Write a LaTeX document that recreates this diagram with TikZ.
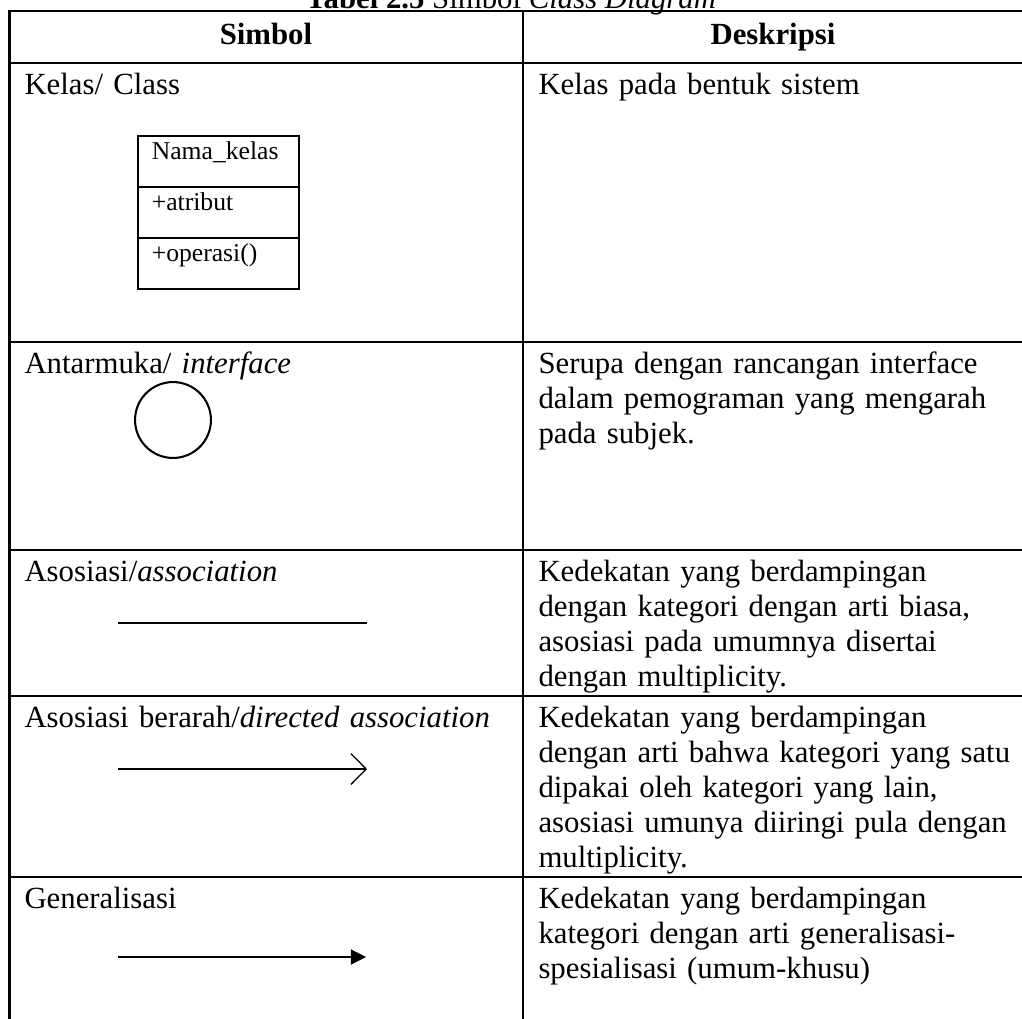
\documentclass[tikz,border=0pt]{standalone}
\usepackage{fontspec}
\setmainfont{Liberation Serif}
\usetikzlibrary{positioning,arrows.meta}

\begin{document}
\begin{tikzpicture}[x=0.39pt, y=-0.39pt, font=\fontsize{12}{13.7}\selectfont]
    \tikzstyle{grid} = [line width=0.8pt];
    \tikzstyle{cell} = [anchor=base west, inner sep=0pt, text width=220pt, align=left];
    \tikzstyle{head} = [anchor=base, inner sep=0pt, font=\fontsize{12}{13.7}\selectfont\bfseries];
    \tikzstyle{compart} = [draw, line width=0.8pt, outer sep=0pt, text width=51.8pt, inner xsep=5.5pt,
      inner ysep=0pt, text height=9.4pt, text depth=10.5pt, align=left, font=\fontsize{10}{12}\selectfont];
    \tikzstyle{link} = [line width=0.5pt];
    \useasboundingbox (0,0) rectangle (1022,1018);

    % table rules
    \draw [grid] (9.5,1030) -- (9.5,11) -- (1023,11) -- (1023,1030);
    \draw [grid] (523,11) -- (523,1030);
    \foreach \y in {63,342,550,696,877}
      \draw [grid] (9.5,\y) -- (1023,\y);

    \node [anchor=base] (judul) at (511,8) {\textbf{Tabel 2.5} Simbol \textit{Class Diagram}};
    \node [head] (hsimbol) at (266,44) {Simbol};
    \node [head] (hdesk) at (773,44) {Deskripsi};

    % kelas
    \node [cell] (sym1) at (24,94) {Kelas/ Class};
    \node [compart, anchor=north west] (nama) at (137.7,135.7) {Nama\_kelas};
    \node [compart, below=0pt of nama] (atribut) {+atribut};
    \node [compart, below=0pt of atribut] (operasi) {+operasi()};
    \node [cell] (desc1) at (538,94) {Kelas pada bentuk sistem};

    % antarmuka
    \node [cell] (sym2) at (24,373) {Antarmuka/ \textit{interface}};
    \node [draw, circle, line width=0.8pt, minimum size=29.6pt, inner sep=0pt] (iface) at (173,420) {};
    \node [cell] (desc2) at (538,373) {Serupa dengan rancangan interface\\
      dalam pemograman yang mengarah\\ pada subjek.};

    % asosiasi
    \node [cell] (sym3) at (24,581) {Asosiasi/\textit{association}};
    \coordinate (asA) at (118,623);
    \coordinate (asB) at (367,623);
    \draw [link] (asA) -- (asB);
    \node [cell] (desc3) at (538,581) {Kedekatan yang berdampingan\\
      dengan kategori dengan arti biasa,\\ asosiasi pada umumnya disertai\\ dengan multiplicity.};

    % asosiasi berarah
    \node [cell] (sym4) at (24,727) {Asosiasi berarah/\textit{directed association}};
    \coordinate (daA) at (118,769);
    \coordinate (daB) at (367,769);
    \draw [link, -{Straight Barb[length=5.9pt, width=12pt]}] (daA) -- (daB);
    \node [cell] (desc4) at (538,727) {Kedekatan yang berdampingan\\
      dengan arti bahwa kategori yang satu\\ dipakai oleh kategori yang lain,\\
      asosiasi umunya diiringi pula dengan\\ multiplicity.};

    % generalisasi
    \node [cell] (sym5) at (24,908) {Generalisasi};
    \coordinate (geA) at (118,957);
    \coordinate (geB) at (366,957);
    \draw [link, -{Triangle[length=5.9pt, width=5.9pt]}] (geA) -- (geB);
    \node [cell] (desc5) at (538,908) {Kedekatan yang berdampingan\\
      kategori dengan arti generalisasi-\\ spesialisasi (umum-khusu)};
\end{tikzpicture}
\end{document}
